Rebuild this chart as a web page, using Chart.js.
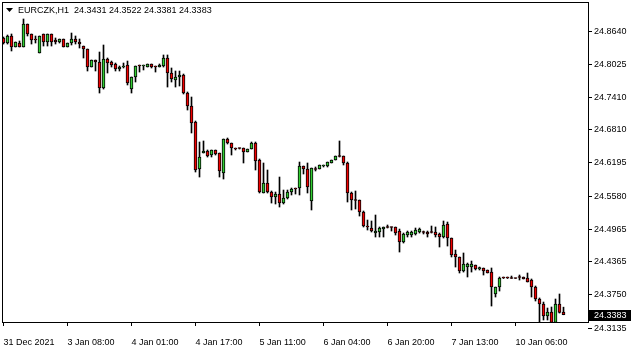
<!DOCTYPE html>
<html>
<head>
<meta charset="utf-8">
<script src="https://cdn.jsdelivr.net/npm/chart.js@4/dist/chart.umd.min.js"></script>
<style>
  html, body { margin: 0; padding: 0; background: #fff; }
  canvas { display: block; }
</style>
</head>
<body>
<canvas id="chart" width="635" height="352"></canvas>
<script>
const symbol = "EURCZK,H1";
const opens = [
  24.8511, 24.8418, 24.8548, 24.8344, 24.8418, 24.8344, 24.8770, 24.8585, 24.8492, 24.8233,
  24.8585, 24.8437, 24.8585, 24.8474, 24.8437, 24.8492, 24.8344, 24.8418, 24.8492, 24.8437,
  24.8362, 24.8307, 24.7973, 24.8103, 24.8066, 24.7584, 24.8121, 24.8066, 24.8029, 24.7936,
  24.7973, 24.8010, 24.7565, 24.7788, 24.8010, 24.7992, 24.7973, 24.8029, 24.7992, 24.7973,
  24.7992, 24.8140, 24.7862, 24.7732, 24.7788, 24.7825, 24.7491, 24.7250, 24.6954, 24.6083,
  24.6379, 24.6416, 24.6342, 24.6435, 24.6379, 24.6008, 24.6639, 24.6564, 24.6472, 24.6472,
  24.6472, 24.6398, 24.6453, 24.6564, 24.6249, 24.5638, 24.5823, 24.5656, 24.5564, 24.5619,
  24.5452, 24.5545, 24.5656, 24.5721, 24.5730, 24.6138, 24.6083, 24.5489, 24.6083, 24.6083,
  24.6138, 24.6138, 24.6194, 24.6249, 24.6324, 24.6324, 24.6194, 24.5638, 24.5508, 24.5508,
  24.5286, 24.5026, 24.4989, 24.4896, 24.4915, 24.4970, 24.5008, 24.5008, 24.5008, 24.4933,
  24.4730, 24.4859, 24.4859, 24.4878, 24.4915, 24.4915, 24.4915, 24.4915, 24.4915, 24.4878,
  24.4822, 24.5063, 24.4804, 24.4507, 24.4452, 24.4192, 24.4266, 24.4266, 24.4303, 24.4229,
  24.4248, 24.4211, 24.4173, 24.3766, 24.3895, 24.4072, 24.4072, 24.4062, 24.4062, 24.4081,
  24.4081, 24.4062, 24.4025, 24.3895, 24.3673, 24.3580, 24.3358, 24.3432, 24.3237, 24.3580,
  24.3431
];
const highs = [
  24.8529, 24.8566, 24.8585, 24.8437, 24.8455, 24.8863, 24.8770, 24.8585, 24.8548, 24.8548,
  24.8585, 24.8585, 24.8585, 24.8511, 24.8492, 24.8492, 24.8418, 24.8603, 24.8548, 24.8492,
  24.8362, 24.8307, 24.8103, 24.8103, 24.8251, 24.8381, 24.8140, 24.8084, 24.8047, 24.7992,
  24.8047, 24.8084, 24.7788, 24.7992, 24.8010, 24.8010, 24.8029, 24.8029, 24.7992, 24.8029,
  24.8196, 24.8196, 24.7955, 24.7899, 24.7899, 24.7843, 24.7510, 24.7417, 24.6972, 24.6583,
  24.6602, 24.6435, 24.6435, 24.6435, 24.6379, 24.6639, 24.6657, 24.6564, 24.6472, 24.6472,
  24.6472, 24.6453, 24.6583, 24.6583, 24.6268, 24.6194, 24.6064, 24.5675, 24.5656, 24.5934,
  24.5693, 24.5693, 24.5730, 24.5730, 24.6212, 24.6138, 24.6194, 24.6101, 24.6120, 24.6157,
  24.6157, 24.6212, 24.6249, 24.6324, 24.6602, 24.6324, 24.6212, 24.5656, 24.5675, 24.5508,
  24.5304, 24.5137, 24.5119, 24.5230, 24.5008, 24.5008, 24.5045, 24.5008, 24.5008, 24.4970,
  24.4896, 24.4933, 24.4933, 24.4989, 24.4989, 24.4933, 24.4933, 24.5026, 24.5008, 24.4896,
  24.5119, 24.5100, 24.4804, 24.4581, 24.4452, 24.4526, 24.4340, 24.4377, 24.4303, 24.4266,
  24.4248, 24.4211, 24.4248, 24.3895, 24.4081, 24.4081, 24.4081, 24.4099, 24.4062, 24.4118,
  24.4081, 24.4155, 24.4044, 24.3914, 24.3692, 24.3617, 24.3506, 24.3525, 24.3673, 24.3766,
  24.3522
];
const lows = [
  24.8399, 24.8399, 24.8270, 24.8344, 24.8344, 24.8344, 24.8548, 24.8399, 24.8418, 24.8233,
  24.8362, 24.8362, 24.8362, 24.8399, 24.8418, 24.8344, 24.8344, 24.8381, 24.8399, 24.8325,
  24.8140, 24.7899, 24.7973, 24.7899, 24.7491, 24.7565, 24.7862, 24.7973, 24.7899, 24.7899,
  24.7955, 24.7640, 24.7491, 24.7695, 24.7880, 24.7918, 24.7973, 24.7955, 24.7880, 24.7973,
  24.7973, 24.7602, 24.7695, 24.7602, 24.7621, 24.7473, 24.7176, 24.6750, 24.6027, 24.5934,
  24.6379, 24.6305, 24.6305, 24.6342, 24.5934, 24.5897, 24.6546, 24.6342, 24.6435, 24.6453,
  24.6194, 24.6398, 24.6453, 24.6064, 24.5638, 24.5638, 24.5638, 24.5452, 24.5434, 24.5378,
  24.5434, 24.5527, 24.5601, 24.5619, 24.5601, 24.5990, 24.5638, 24.5323, 24.6046, 24.6083,
  24.6120, 24.6120, 24.6194, 24.6249, 24.6305, 24.6157, 24.5471, 24.5323, 24.5341, 24.5211,
  24.5008, 24.4952, 24.4915, 24.4822, 24.4822, 24.4822, 24.4989, 24.4933, 24.4859, 24.4544,
  24.4711, 24.4822, 24.4822, 24.4859, 24.4896, 24.4878, 24.4822, 24.4896, 24.4822, 24.4637,
  24.4804, 24.4655, 24.4452, 24.4266, 24.4155, 24.4173, 24.4081, 24.4173, 24.4211, 24.4211,
  24.4118, 24.4155, 24.3543, 24.3710, 24.3821, 24.4053, 24.4053, 24.4053, 24.4053, 24.4025,
  24.4044, 24.3988, 24.3710, 24.3636, 24.3247, 24.3284, 24.3284, 24.3228, 24.3228, 24.3413,
  24.3381
];
const closes = [
  24.8418, 24.8548, 24.8344, 24.8437, 24.8344, 24.8770, 24.8585, 24.8474, 24.8474, 24.8548,
  24.8437, 24.8585, 24.8437, 24.8437, 24.8492, 24.8344, 24.8418, 24.8492, 24.8437, 24.8399,
  24.8307, 24.7973, 24.8103, 24.8066, 24.7584, 24.8121, 24.8047, 24.8010, 24.7936, 24.7973,
  24.7992, 24.7677, 24.7788, 24.7992, 24.7992, 24.8010, 24.8029, 24.7973, 24.7973, 24.8010,
  24.8140, 24.7862, 24.7751, 24.7788, 24.7825, 24.7491, 24.7250, 24.6935, 24.6064, 24.6305,
  24.6416, 24.6324, 24.6435, 24.6361, 24.6046, 24.6639, 24.6564, 24.6472, 24.6453, 24.6463,
  24.6398, 24.6453, 24.6564, 24.6231, 24.5656, 24.5823, 24.5656, 24.5564, 24.5619, 24.5452,
  24.5545, 24.5656, 24.5712, 24.5712, 24.6138, 24.6083, 24.5749, 24.6101, 24.6074, 24.6157,
  24.6157, 24.6212, 24.6249, 24.6324, 24.6315, 24.6194, 24.5638, 24.5508, 24.5499, 24.5286,
  24.5026, 24.5008, 24.4933, 24.4933, 24.4989, 24.5008, 24.4999, 24.4999, 24.4896, 24.4730,
  24.4878, 24.4915, 24.4915, 24.4952, 24.4970, 24.4906, 24.4878, 24.4906, 24.4859, 24.4822,
  24.5045, 24.4804, 24.4489, 24.4452, 24.4192, 24.4322, 24.4322, 24.4322, 24.4229, 24.4257,
  24.4192, 24.4155, 24.3895, 24.3895, 24.4062, 24.4062, 24.4062, 24.4053, 24.4053, 24.4072,
  24.4044, 24.3988, 24.3895, 24.3673, 24.3580, 24.3358, 24.3432, 24.3237, 24.3580, 24.3423,
  24.3383
];
const priceTicks = [24.8640, 24.8025, 24.7410, 24.6810, 24.6195, 24.5580, 24.4965, 24.4365, 24.3750, 24.3135];
const timeTickIdx = [0, 16, 32, 48, 64, 80, 96, 112, 128];
const timeTickLabels = ["31 Dec 2021", "3 Jan 08:00", "4 Jan 01:00", "4 Jan 17:00", "5 Jan 11:00",
  "6 Jan 04:00", "6 Jan 20:00", "7 Jan 13:00", "10 Jan 06:00"];

const upColor = "#32cd32";
const downColor = "#f00000";
const font = { family: "'Liberation Sans', Arial, sans-serif", size: 9 };

const bodies = opens.map((o, i) => ({ x: i, y: [o, closes[i]] }));
const wicks = lows.map((l, i) => ({ x: i, y: [l, highs[i]] }));
const bodyColors = opens.map((o, i) => closes[i] >= o ? upColor : downColor);

const framePlugin = {
  id: "frame",
  afterDraw(chart) {
    const { ctx, chartArea: a, scales } = chart;
    ctx.save();
    ctx.strokeStyle = "#000";
    ctx.lineWidth = 1;
    ctx.strokeRect(a.left + 0.5, a.top + 0.5, a.right - a.left, a.bottom - a.top);

    // symbol header
    ctx.fillStyle = "#000";
    ctx.beginPath();
    ctx.moveTo(6, 8);
    ctx.lineTo(13, 8);
    ctx.lineTo(9.5, 12);
    ctx.closePath();
    ctx.fill();
    const n = closes.length - 1;
    ctx.font = font.size + "px " + font.family;
    ctx.textBaseline = "middle";
    ctx.fillText(symbol + "  " + [opens[n], highs[n], lows[n], closes[n]].map(v => v.toFixed(4)).join(" "), 18, 10.5);

    // last price marker
    const y = Math.round(scales.y.getPixelForValue(closes[n]));
    ctx.fillRect(a.right + 1, y - 5, 42, 11);
    ctx.fillStyle = "#fff";
    ctx.fillText(closes[n].toFixed(4), a.right + 6, y + 0.5);
    ctx.restore();
  }
};

new Chart(document.getElementById("chart"), {
  type: "bar",
  data: {
    datasets: [
      {
        data: bodies,
        backgroundColor: bodyColors,
        borderColor: "#000",
        borderWidth: 1,
        borderSkipped: false,
        barThickness: 3,
        minBarLength: 1,
        grouped: false,
        order: 0
      },
      {
        data: wicks,
        backgroundColor: "#000",
        borderWidth: 0,
        barThickness: 1,
        grouped: false,
        order: 1
      }
    ]
  },
  options: {
    responsive: false,
    animation: false,
    layout: { padding: { left: 2, top: 2, right: 0, bottom: 0 } },
    plugins: { legend: { display: false }, tooltip: { enabled: false } },
    scales: {
      x: {
        type: "linear",
        min: -0.375,
        max: 146.125,
        offset: false,
        grid: { offset: false, drawOnChartArea: false, tickLength: 4, tickColor: "#000" },
        border: { display: false },
        afterBuildTicks: s => { s.ticks = timeTickIdx.map(v => ({ value: v })); },
        afterFit: s => { s.height = 30; s.paddingLeft = 0; s.paddingRight = 0; },
        ticks: {
          autoSkip: false,
          maxRotation: 0,
          align: "start",
          padding: 11,
          color: "#000",
          font: font,
          callback: v => timeTickLabels[timeTickIdx.indexOf(v)]
        }
      },
      y: {
        position: "right",
        min: 24.3247,
        max: 24.9178,
        grid: { drawOnChartArea: false, tickLength: 4, tickColor: "#000" },
        border: { display: false },
        afterBuildTicks: s => { s.ticks = priceTicks.map(v => ({ value: v })); },
        afterFit: s => { s.width = 47; s.paddingTop = 0; s.paddingBottom = 0; },
        ticks: {
          autoSkip: false,
          padding: 2,
          color: "#000",
          font: font,
          callback: v => v.toFixed(4)
        }
      }
    }
  },
  plugins: [framePlugin]
});
</script>
</body>
</html>
